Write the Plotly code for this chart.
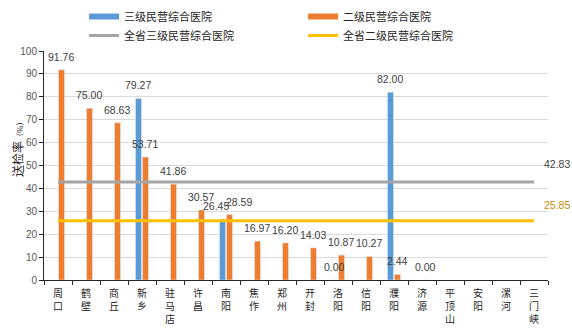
import plotly.graph_objects as go

cities = ["周口", "鹤壁", "商丘", "新乡", "驻马店", "许昌", "南阳", "焦作", "郑州",
          "开封", "洛阳", "信阳", "濮阳", "济源", "平顶山", "安阳", "漯河", "三门峡"]
tier3 = [None, None, None, 79.27, None, None, 26.45, None, None,
         None, 0.00, None, 82.00, None, None, None, None, None]
tier2 = [91.76, 75.00, 68.63, 53.71, 41.86, 30.57, 28.59, 16.97, 16.20,
         14.03, 10.87, 10.27, 2.44, 0.00, None, None, None, None]
prov3 = 42.83
prov2 = 25.85
y_ticks = [0, 10, 20, 30, 40, 50, 60, 70, 80, 90, 100]

BLUE = "#5B9BD5"
ORANGE = "#ED7D31"
GRAY = "#A5A5A5"
YELLOW = "#FFC000"
FONT = "Liberation Sans, Noto Sans CJK SC"
CJK = "Noto Sans CJK SC"

fig = go.Figure()
fig.add_trace(go.Bar(name="三级民营综合医院", x=cities, y=tier3, marker_color=BLUE,
                     showlegend=False))
fig.add_trace(go.Bar(name="二级民营综合医院", x=cities, y=tier2, marker_color=ORANGE,
                     showlegend=False))
fig.add_trace(go.Scatter(name="全省三级民营综合医院", x=cities, y=[prov3] * len(cities),
                         mode="lines", line=dict(color=GRAY, width=3), legendrank=3))
fig.add_trace(go.Scatter(name="全省二级民营综合医院", x=cities, y=[prov2] * len(cities),
                         mode="lines", line=dict(color=YELLOW, width=3), legendrank=4))
# legend keys for the bar series (drawn as wide bars like the original)
fig.add_trace(go.Scatter(name="三级民营综合医院", x=[None], y=[None], mode="lines",
                         line=dict(color=BLUE, width=6), legendrank=1, hoverinfo="skip"))
fig.add_trace(go.Scatter(name="二级民营综合医院", x=[None], y=[None], mode="lines",
                         line=dict(color=ORANGE, width=6), legendrank=2, hoverinfo="skip"))

# manual nudges for overlapping labels (x shift in px)
nudge3 = {"南阳": -6}
nudge2 = {"南阳": 10}

anns = []
for c, v in zip(cities, tier3):
    if v is not None:
        anns.append(dict(x=c, y=v, text=f"{v:.2f}", showarrow=False,
                         xshift=-4 + nudge3.get(c, 0), yshift=13,
                         font=dict(size=10.5, color="#404040", family=FONT)))
for c, v in zip(cities, tier2):
    if v is not None:
        anns.append(dict(x=c, y=v, text=f"{v:.2f}", showarrow=False,
                         xshift=3 + nudge2.get(c, 0), yshift=13,
                         font=dict(size=10.5, color="#404040", family=FONT)))
anns.append(dict(x=cities[-1], y=prov3, text=f"{prov3:.2f}", showarrow=False,
                 xshift=23, yshift=18, font=dict(size=10.5, color="#404040", family=FONT)))
anns.append(dict(x=cities[-1], y=prov2, text=f"{prov2:.2f}", showarrow=False,
                 xshift=23, yshift=16, font=dict(size=10.5, color="#BF9000", family=FONT)))
anns.append(dict(xref="paper", yref="paper", x=-0.054, y=0.58, textangle=-90,
                 xanchor="center", yanchor="middle",
                 text="送检率<span style='font-size:8px'>（%）</span>", showarrow=False,
                 font=dict(size=12, color="#262626", family=CJK)))

fig.update_layout(
    width=572, height=335,
    margin=dict(l=44, r=24, t=51, b=55, autoexpand=False),
    paper_bgcolor="white", plot_bgcolor="white",
    barmode="group", bargap=0.5, bargroupgap=0.14,
    font=dict(family=FONT, color="#595959"),
    showlegend=True,
    legend=dict(orientation="h", xref="container", yref="container",
                x=0.147, xanchor="left", y=0.994, yanchor="top",
                entrywidth=174, entrywidthmode="pixels",
                font=dict(size=11, color="#262626", family=CJK),
                itemwidth=30, tracegroupgap=0, traceorder="normal"),
    annotations=anns,
)
fig.update_xaxes(type="category", categoryorder="array", categoryarray=cities,
                 range=[-0.5, len(cities) - 0.5],
                 tickvals=cities, ticktext=["<br>".join(list(c)) for c in cities],
                 tickfont=dict(size=10, color="#262626", family=CJK),
                 ticklabelstandoff=4,
                 showline=True, linecolor="#262626", linewidth=1,
                 ticks="outside", tickson="boundaries", ticklen=4, tickcolor="#262626",
                 showgrid=False)
fig.update_yaxes(range=[0, 100], tickvals=y_ticks, showgrid=True, gridcolor="#D9D9D9",
                 gridwidth=1, showline=True, linecolor="#262626", linewidth=1,
                 ticks="outside", ticklen=4, tickcolor="#262626",
                 tickfont=dict(size=10, color="#595959", family=FONT), zeroline=False)

fig.write_html("out.html")
